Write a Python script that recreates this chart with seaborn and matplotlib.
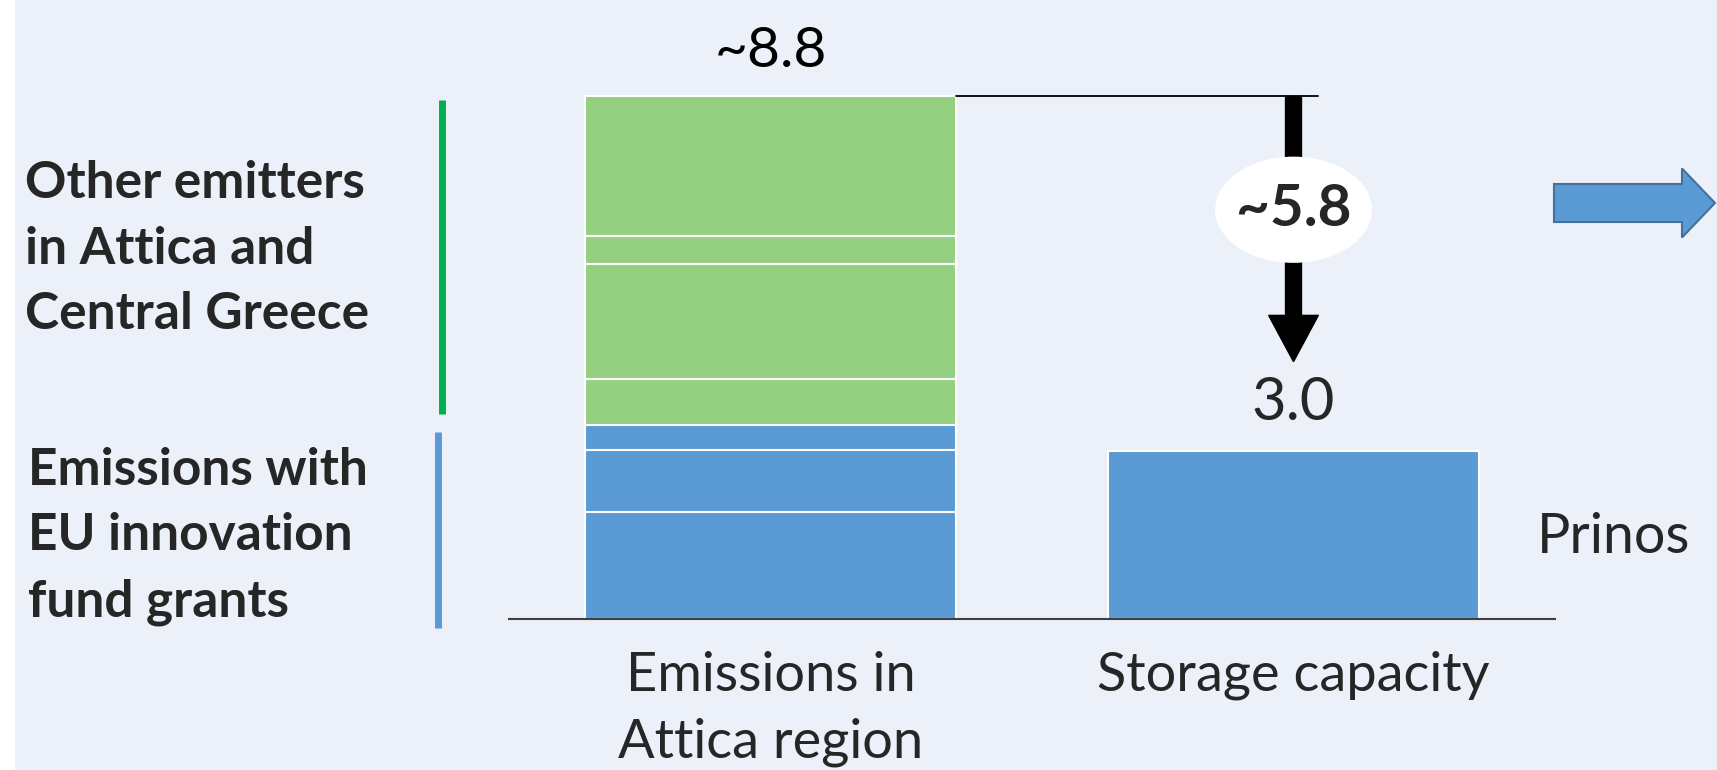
import numpy as np
import pandas as pd
import matplotlib
matplotlib.use("Agg")
import matplotlib.pyplot as plt
import seaborn as sns
from matplotlib.patches import Ellipse, FancyArrow, Rectangle

# data
categories = ["Emissions in\nAttica region", "Storage capacity"]
emission_segments = [1.80, 1.04, 0.42, 0.78, 1.93, 0.47, 2.36]   # bottom -> top
segment_groups = ["eu", "eu", "eu", "other", "other", "other", "other"]
storage_capacity = 3.0
storage_bar = 2.83        # height the storage bar is drawn with
site_label = "Prinos"
other_lines = ["Other emitters", "in Attica and", "Central Greece"]
eu_lines = ["Emissions with", "EU innovation", "fund grants"]

BG = "#EBF0F9"
BLUE = "#5B9BD5"
GREEN = "#94D080"
group_colors = {"eu": BLUE, "other": GREEN}

sns.set_theme(style="white")
plt.rcParams["font.family"] = ["Lato", "DejaVu Sans"]

fig = plt.figure(figsize=(17.17, 7.70), dpi=100)
fig.patch.set_facecolor(BG)

# decoration layer in pixel coords
deco = fig.add_axes([0, 0, 1, 1])
deco.set_xlim(0, 1717)
deco.set_ylim(770, 0)
deco.axis("off")
deco.add_patch(Rectangle((0, 0), 14, 770, color="white"))

# bar axes (baseline at 618 px from top, 59.3 px per unit)
base_px = 618.6
px_per_unit = 59.34
ax = fig.add_axes([509 / 1717, (770 - base_px) / 770, 1046 / 1717, base_px / 770])
ax.set_facecolor("none")

df = pd.DataFrame({"category": categories[0],
                   "top": np.cumsum(emission_segments),
                   "group": segment_groups})
# stacked bar: draw cumulative tops from the highest down
for _, row in df.iloc[::-1].iterrows():
    sns.barplot(x=[row["category"]], y=[row["top"]], order=categories,
                color=group_colors[row["group"]], saturation=1, width=0.71,
                edgecolor="white", linewidth=1.5, ax=ax)
sns.barplot(x=[categories[1]], y=[storage_bar], order=categories,
            color=BLUE, saturation=1, width=0.71,
            edgecolor="white", linewidth=1.5, ax=ax)

total = df["top"].iloc[-1]
ax.set_xlim(-0.5, 1.5)
ax.set_ylim(0, base_px / px_per_unit)
ax.set_xlabel("")
ax.set_ylabel("")
ax.set_yticks([])
ax.set_xticks([0, 1])
ax.set_xticklabels(categories, fontsize=39, linespacing=1.46)
ax.tick_params(axis="x", length=0, pad=23)
for s in ["left", "top", "right"]:
    ax.spines[s].set_visible(False)
ax.spines["bottom"].set_color("#404040")
ax.spines["bottom"].set_linewidth(1.5)

# value labels
ax.annotate(f"~{total:.1f}", (0, total), xytext=(0, 29), textcoords="offset pixels",
            ha="center", va="baseline", fontsize=41, color="black")
ax.annotate(f"{storage_capacity:.1f}", (1.0, storage_bar), xytext=(0, 31),
            textcoords="offset pixels", ha="center", va="baseline", fontsize=43)

# gap arrow
ax.plot([0.355, 1.046], [total, total], color="black", lw=1.3, clip_on=False)
ax.arrow(1.0, total, 0, -(total - 4.33), width=0.0305, head_width=0.095,
         head_length=0.78, length_includes_head=True, color="black",
         zorder=3, clip_on=False)
ax.add_patch(Ellipse((1.0, 6.89), 0.30, 1.79, facecolor="white",
                     edgecolor="none", zorder=4, clip_on=False))
ax.text(1.0, 6.89, f"~{total - storage_capacity:.1f}", ha="center", va="center",
        fontsize=42, fontweight="bold", zorder=5)

# left group labels and brackets
for i, line in enumerate(other_lines):
    deco.text(25, 198 + 65.5 * i, line, fontsize=37, fontweight="bold", va="baseline")
for i, line in enumerate(eu_lines):
    deco.text(28, 485 + 65.5 * i, line, fontsize=37, fontweight="bold", va="baseline")
deco.plot([442, 442], [100, 414], color="#00B050", lw=5, solid_capstyle="butt")
deco.plot([438, 438], [432, 628], color=BLUE, lw=5, solid_capstyle="butt")

deco.text(1537, 553, site_label, fontsize=40, va="baseline")

deco.add_patch(FancyArrow(1554, 203, 161, 0, width=38, head_width=69, head_length=33,
                          length_includes_head=True, facecolor=BLUE,
                          edgecolor="#41719C", lw=1.5))

fig.savefig("out.png", dpi=100, facecolor=BG)
